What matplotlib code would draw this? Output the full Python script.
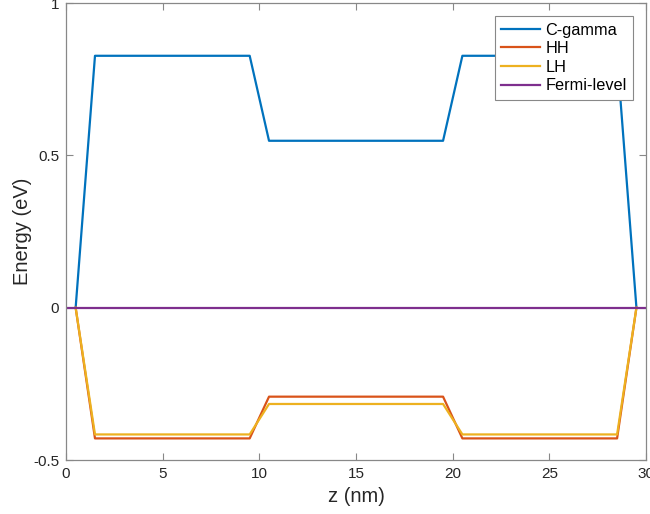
import numpy as np
import matplotlib.pyplot as plt
from matplotlib.ticker import FuncFormatter

# band-edge profile along growth direction
z = [0.5, 1.5, 9.5, 10.5, 19.5, 20.5, 28.5, 29.5]
c_gamma = [0, 0.827, 0.827, 0.548, 0.548, 0.827, 0.827, 0]
hh = [0, -0.429, -0.429, -0.292, -0.292, -0.429, -0.429, 0]
lh = [0, -0.416, -0.416, -0.316, -0.316, -0.416, -0.416, 0]
z_fermi = [0, 30]
fermi = [0, 0]

plt.rcParams['font.family'] = ['Liberation Sans', 'DejaVu Sans']

fig = plt.figure(figsize=(6.5, 5.14), dpi=100)
ax = fig.add_axes([0.1015, 0.105, 0.8925, 0.889])

ax.plot(z, c_gamma, color='#0072BD', lw=1.6, label='C-gamma')
ax.plot(z, hh, color='#D95319', lw=1.6, label='HH')
ax.plot(z, lh, color='#EDB120', lw=1.6, label='LH')
ax.plot(z_fermi, fermi, color='#7E2F8E', lw=1.6, label='Fermi-level')

ax.set_xlim(0, 30)
ax.set_ylim(-0.5, 1)
ax.set_xticks(np.arange(0, 31, 5))
ax.set_yticks([-0.5, 0, 0.5, 1])
ax.yaxis.set_major_formatter(FuncFormatter(lambda v, p: f'{v:g}'))
ax.tick_params(direction='in', top=True, right=True, length=5, pad=5,
               width=0.8, color='#888888', labelsize=11, labelcolor='#262626')
for s in ax.spines.values():
    s.set_color('#888888')
    s.set_linewidth(0.9)

ax.set_xlabel('z (nm)', fontsize=14.5, color='#262626', labelpad=4)
ax.set_ylabel('Energy (eV)', fontsize=14.5, color='#262626', labelpad=1)

leg = ax.legend(loc='upper right', fontsize=11.7, handlelength=2.4,
                borderaxespad=0.8, labelspacing=0.22, borderpad=0.4,
                handletextpad=0.3, fancybox=False, framealpha=1)
leg.get_frame().set_edgecolor('#888888')
leg.get_frame().set_linewidth(0.8)

plt.savefig('out.png', dpi=100)
